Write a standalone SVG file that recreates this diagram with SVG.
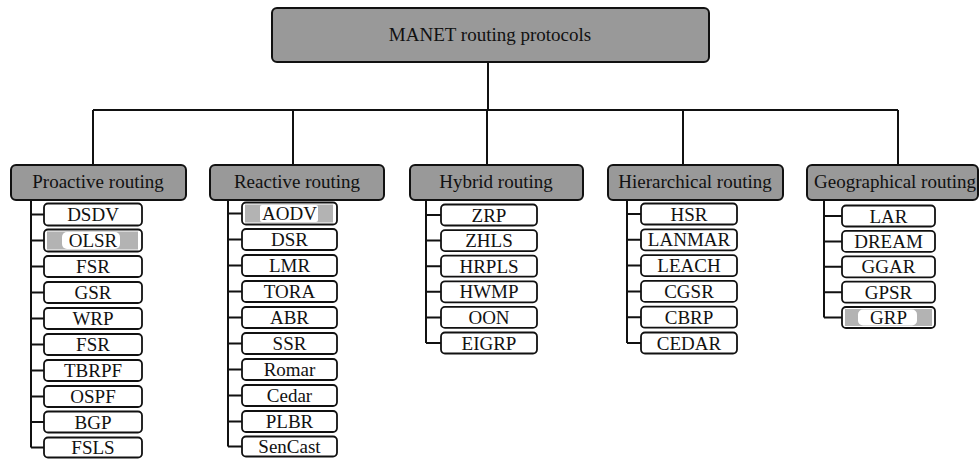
<svg xmlns="http://www.w3.org/2000/svg" width="979" height="460" viewBox="0 0 979 460">
<style>
text{font-family:"Liberation Serif","Times New Roman",serif;font-size:19px;fill:#111;text-anchor:middle}
.main{fill:#999;stroke:#111;stroke-width:2}
.cat{fill:#999;stroke:#111;stroke-width:2}
.leaf{fill:#fff;stroke:#111;stroke-width:1.8}
.hl{fill:#b3b3b3}
.pill{fill:#fff}
.ln{stroke:#111;stroke-width:2;fill:none}
</style>
<g id="connectors">
<path class="ln" d="M488 62V110M93 110H898M93 110V165M293 110V165M487 110V165M683 110V165M898 110V165"/>
<path class="ln" d="M31 200V447.5M31 214.5H44M31 240.5H44M31 266.5H44M31 292.5H44M31 318.5H44M31 344.5H44M31 370.5H44M31 396.5H44M31 422H44M31 447.5H44"/>
<path class="ln" d="M228 200V446.5M228 213.5H242M228 239.5H242M228 265.5H242M228 291.5H242M228 317.5H242M228 343.5H242M228 369.5H242M228 395.5H242M228 421.5H242M228 446.5H242"/>
<path class="ln" d="M426 200V343M426 215H441M426 240.6H441M426 266.2H441M426 291.8H441M426 317.4H441M426 343H441"/>
<path class="ln" d="M627 200V343M627 214H641M627 239.8H641M627 265.6H641M627 291.4H641M627 317.2H641M627 343H641"/>
<path class="ln" d="M824 200V317.5M824 216H842M824 241.4H842M824 266.8H842M824 292.2H842M824 317.5H842"/>
</g>
<g id="root"><rect class="main" x="272" y="8" width="437" height="54" rx="5"/><text x="490" y="41">MANET routing protocols</text></g>
<g id="proactive"><rect class="cat" x="11" y="165" width="175" height="35" rx="5"/><text x="98" y="188">Proactive routing</text></g>
<g id="reactive"><rect class="cat" x="210" y="165" width="174" height="35" rx="5"/><text x="297" y="188">Reactive routing</text></g>
<g id="hybrid"><rect class="cat" x="410" y="165" width="173" height="35" rx="5"/><text x="496" y="188">Hybrid routing</text></g>
<g id="hierarchical"><rect class="cat" x="608" y="165" width="175" height="35" rx="5"/><text x="695" y="188">Hierarchical routing</text></g>
<g id="geographical"><rect class="cat" x="807" y="165" width="171" height="35" rx="5"/><text x="895" y="188">Geographical routing</text></g>

<g id="p-dsdv"><rect class="leaf" x="44" y="203.5" width="98" height="22" rx="4"/><text x="93" y="221">DSDV</text></g>
<g id="p-olsr"><rect class="leaf" x="44" y="229.5" width="98" height="22" rx="4"/><rect class="hl" x="47" y="231.5" width="91" height="18"/><rect class="pill" x="62" y="232" width="58" height="17" rx="5"/><text x="93" y="247">OLSR</text></g>
<g id="p-fsr"><rect class="leaf" x="44" y="256" width="98" height="21" rx="4"/><text x="93" y="273">FSR</text></g>
<g id="p-gsr"><rect class="leaf" x="44" y="282" width="98" height="21" rx="4"/><text x="93" y="299">GSR</text></g>
<g id="p-wrp"><rect class="leaf" x="44" y="308" width="98" height="21" rx="4"/><text x="93" y="325">WRP</text></g>
<g id="p-fsr2"><rect class="leaf" x="44" y="334" width="98" height="21" rx="4"/><text x="93" y="351">FSR</text></g>
<g id="p-tbrpf"><rect class="leaf" x="44" y="360" width="98" height="21" rx="4"/><text x="93" y="377">TBRPF</text></g>
<g id="p-ospf"><rect class="leaf" x="44" y="386" width="98" height="21" rx="4"/><text x="93" y="403">OSPF</text></g>
<g id="p-bgp"><rect class="leaf" x="44" y="411.5" width="98" height="21" rx="4"/><text x="93" y="429">BGP</text></g>
<g id="p-fsls"><rect class="leaf" x="44" y="437.5" width="98" height="20" rx="4"/><text x="93" y="454">FSLS</text></g>

<g id="r-aodv"><rect class="leaf" x="242" y="202.5" width="95" height="22" rx="4"/><rect class="hl" x="245" y="204.5" width="88" height="18"/><rect class="pill" x="260" y="205" width="58" height="17" rx="2"/><text x="289.5" y="220">AODV</text></g>
<g id="r-dsr"><rect class="leaf" x="242" y="229" width="95" height="21" rx="4"/><text x="289.5" y="246">DSR</text></g>
<g id="r-lmr"><rect class="leaf" x="242" y="255" width="95" height="21" rx="4"/><text x="289.5" y="272">LMR</text></g>
<g id="r-tora"><rect class="leaf" x="242" y="281" width="95" height="21" rx="4"/><text x="289.5" y="298">TORA</text></g>
<g id="r-abr"><rect class="leaf" x="242" y="307" width="95" height="21" rx="4"/><text x="289.5" y="324">ABR</text></g>
<g id="r-ssr"><rect class="leaf" x="242" y="333" width="95" height="21" rx="4"/><text x="289.5" y="350">SSR</text></g>
<g id="r-romar"><rect class="leaf" x="242" y="359" width="95" height="21" rx="4"/><text x="289.5" y="376">Romar</text></g>
<g id="r-cedar"><rect class="leaf" x="242" y="385" width="95" height="21" rx="4"/><text x="289.5" y="402">Cedar</text></g>
<g id="r-plbr"><rect class="leaf" x="242" y="411" width="95" height="21" rx="4"/><text x="289.5" y="428">PLBR</text></g>
<g id="r-sencast"><rect class="leaf" x="242" y="436.5" width="95" height="20" rx="4"/><text x="289.5" y="453">SenCast</text></g>

<g id="h-zrp"><rect class="leaf" x="441" y="204.5" width="96" height="21" rx="4"/><text x="489" y="221.5">ZRP</text></g>
<g id="h-zhls"><rect class="leaf" x="441" y="230.1" width="96" height="21" rx="4"/><text x="489" y="247.1">ZHLS</text></g>
<g id="h-hrpls"><rect class="leaf" x="441" y="255.7" width="96" height="21" rx="4"/><text x="489" y="272.7">HRPLS</text></g>
<g id="h-hwmp"><rect class="leaf" x="441" y="281.3" width="96" height="21" rx="4"/><text x="489" y="298.3">HWMP</text></g>
<g id="h-oon"><rect class="leaf" x="441" y="306.9" width="96" height="21" rx="4"/><text x="489" y="323.9">OON</text></g>
<g id="h-eigrp"><rect class="leaf" x="441" y="332.5" width="96" height="21" rx="4"/><text x="489" y="349.5">EIGRP</text></g>

<g id="hi-hsr"><rect class="leaf" x="641" y="203.5" width="96" height="21" rx="4"/><text x="689" y="220.5">HSR</text></g>
<g id="hi-lanmar"><rect class="leaf" x="641" y="229.3" width="96" height="21" rx="4"/><text x="689" y="246.3">LANMAR</text></g>
<g id="hi-leach"><rect class="leaf" x="641" y="255.1" width="96" height="21" rx="4"/><text x="689" y="272.1">LEACH</text></g>
<g id="hi-cgsr"><rect class="leaf" x="641" y="280.9" width="96" height="21" rx="4"/><text x="689" y="297.9">CGSR</text></g>
<g id="hi-cbrp"><rect class="leaf" x="641" y="306.7" width="96" height="21" rx="4"/><text x="689" y="323.7">CBRP</text></g>
<g id="hi-cedar"><rect class="leaf" x="641" y="332.5" width="96" height="21" rx="4"/><text x="689" y="349.5">CEDAR</text></g>

<g id="g-lar"><rect class="leaf" x="842" y="205.5" width="93" height="21" rx="4"/><text x="888.5" y="222.5">LAR</text></g>
<g id="g-dream"><rect class="leaf" x="842" y="230.9" width="93" height="21" rx="4"/><text x="888.5" y="247.9">DREAM</text></g>
<g id="g-ggar"><rect class="leaf" x="842" y="256.3" width="93" height="21" rx="4"/><text x="888.5" y="273.3">GGAR</text></g>
<g id="g-gpsr"><rect class="leaf" x="842" y="281.7" width="93" height="21" rx="4"/><text x="888.5" y="298.7">GPSR</text></g>
<g id="g-grp"><rect class="leaf" x="842" y="307" width="93" height="21" rx="4"/><rect class="hl" x="845" y="309" width="87" height="17"/><rect class="pill" x="858" y="309.5" width="59" height="16" rx="5"/><text x="888.5" y="324">GRP</text></g>
</svg>
